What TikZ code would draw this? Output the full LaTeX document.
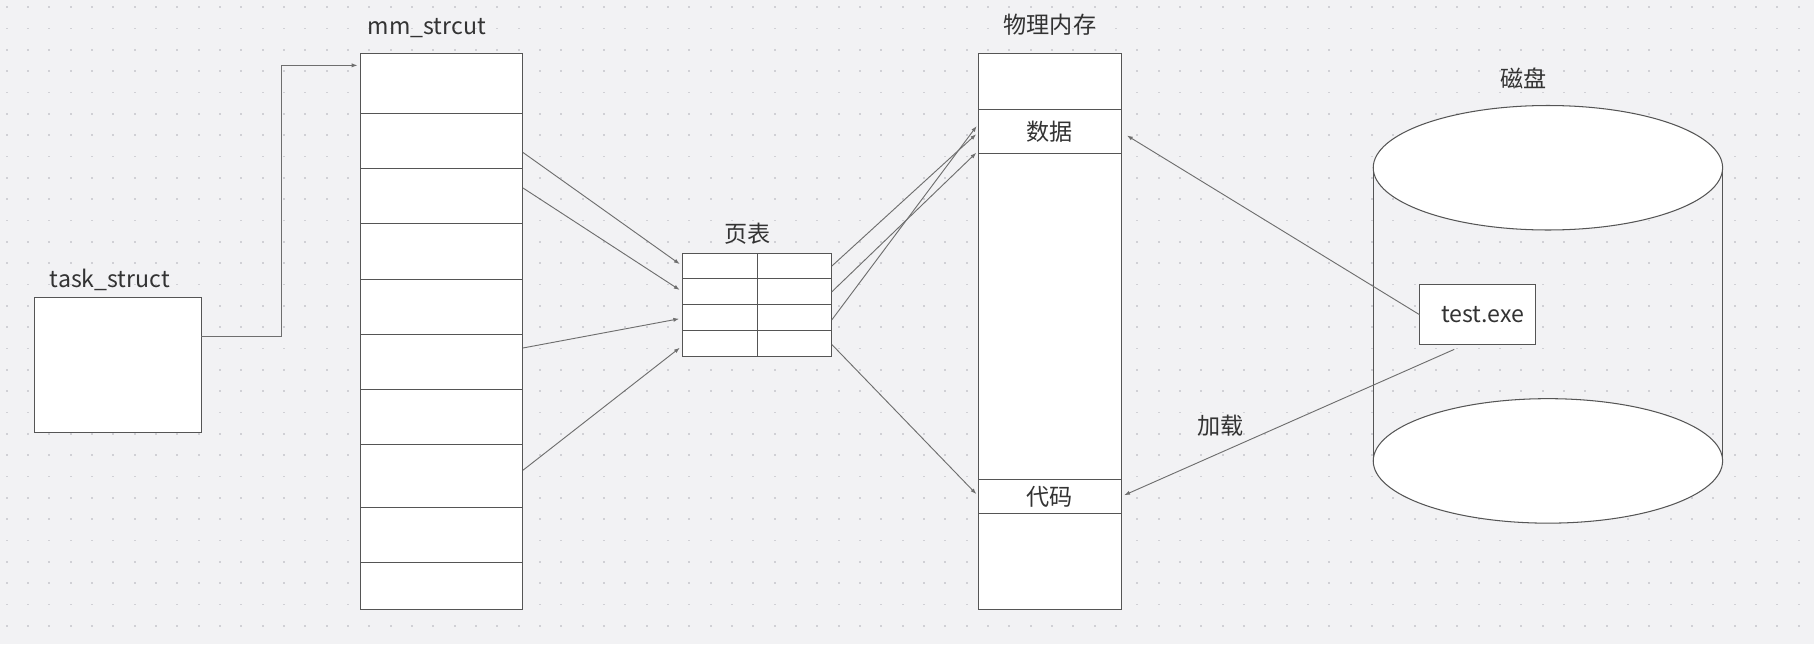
\documentclass[tikz,border=0pt]{standalone}
\usepackage{fontspec}
\setmainfont{Noto Sans CJK SC}
\usepackage{xcolor}
\usetikzlibrary{arrows.meta, positioning, shapes.geometric}
\definecolor{canvas}{HTML}{F2F2F4}
\definecolor{griddot}{HTML}{D0D0D5}
\definecolor{edge}{HTML}{555555}
\definecolor{wire}{HTML}{6E6E6E}
\definecolor{ink}{HTML}{333333}

\begin{document}
\begin{tikzpicture}[
    x=1pt, y=-1pt,
    every node/.style={font=\fontsize{20}{24}\selectfont, text=ink},
    box/.style={draw=edge, line width=0.9pt, fill=white, inner sep=0pt, outer sep=0pt},
    arr/.style={-{Latex[length=5pt,width=3.6pt]}, draw=wire, line width=0.8pt, shorten >=3pt},
  ]
  \fill[canvas] (0,0) rectangle (1568,557);
  \useasboundingbox (0,0) rectangle (1568,557);
  \foreach \i in {0,...,84}
    \foreach \j in {0,...,29}
      \fill[griddot] ({5+\i*18.44},{5.4+\j*18.44}) rectangle ++(1.6,1.6);

  \node[box, minimum width=144pt, minimum height=117pt] (ts) at (102,315.5) {};
  \node (tslabel) at (95,242) {task\_struct};

  \foreach \a/\b [count=\k] in {46/98,98/145.5,145.5/193.4,193.4/241.4,241.4/289,
      289/336.6,336.6/384.5,384.5/438.5,438.5/486.1,486.1/527}
    \node[box, minimum width=140pt, minimum height={(\b-\a)*1pt}] (m\k) at (382,{(\a+\b)/2}) {};
  \node (mmlabel) at (369,24) {mm\_strcut};

  \foreach \a/\b [count=\k] in {219/241,241/263.5,263.5/285.5,285.5/308} {
    \node[box, minimum width=65pt, minimum height={(\b-\a)*1pt}] (p\k) at (622.5,{(\a+\b)/2}) {};
    \node[box, minimum width=64pt, minimum height={(\b-\a)*1pt}] (q\k) at (687,{(\a+\b)/2}) {};
  }
  \node (ptlabel) at (646,202) {页表};

  \foreach \a/\b/\n/\t in {46/95/mtop/{}, 95/133/data/数据, 133/414.7/mmid/{},
      414.7/443.8/code/代码, 443.8/527/mbot/{}}
    \node[box, minimum width=123pt, minimum height={(\b-\a)*1pt}] (\n) at (907.5,{(\a+\b)/2}) {\t};
  \node (memlabel) at (907.5,21) {物理内存};

  \node[ellipse, box, minimum width=302pt, minimum height=107.6pt] (dtop) at (1338,145) {};
  \node[ellipse, box, minimum width=302pt, minimum height=107.6pt] (dbot) at (1338,398.4) {};
  \draw[edge, line width=0.9pt] (dtop.west) -- (dbot.west) (dtop.east) -- (dbot.east);
  \node (disklabel) at (1317,68) {磁盘};
  \node[box, minimum width=100pt, minimum height=52pt] (exe) at (1277,272) {\hspace{9pt}test.exe};

  \draw[arr] ([yshift=24.5pt]ts.east) -- ++(69,0) |- ([yshift=15.5pt]m1.west);

  \draw[arr] ([yshift=-10pt]m2.east) -- (p1.west);
  \draw[arr] ([yshift=7pt]m3.east) -- (p2.west);
  \draw[arr] ([yshift=12pt]m6.east) -- ([yshift=-0.5pt]p3.west);
  \draw[arr] ([yshift=5pt]m8.east) -- ([yshift=-2pt]p4.west);

  \draw[arr] (q1.east) -- (data.west);
  \draw[arr] (q2.east) -- ([yshift=-16pt]data.west);
  \draw[arr] ([yshift=-2pt]q3.east) -- ([yshift=7.4pt]data.west);
  \draw[arr] ([yshift=-1pt]q4.east) -- (code.west);

  \draw[arr, shorten >=6pt] (exe.west) -- (data.east);
  \draw[arr] ([xshift=-20pt,yshift=-4pt]exe.south) -- (code.east);
  \node (loadlabel) at (1055,368) {加载};
\end{tikzpicture}
\end{document}
